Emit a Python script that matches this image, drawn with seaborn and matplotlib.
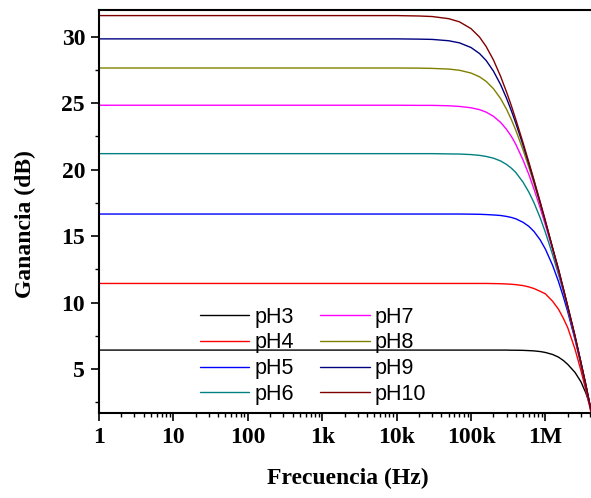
import numpy as np
import pandas as pd
import matplotlib
matplotlib.use("Agg")
import matplotlib.pyplot as plt
from matplotlib.ticker import FixedLocator, FixedFormatter, LogLocator, MultipleLocator, NullFormatter
import seaborn as sns

# Frequency points (Hz) shared by every series
freq = [1, 1e4, 2e4, 3e4, 5e4, 7e4, 1e5, 1.3e5, 1.6e5, 2e5, 2.5e5, 3e5, 3.5e5, 4e5,
        5e5, 6e5, 7e5, 8.5e5, 1e6, 1.25e6, 1.5e6, 1.75e6, 2e6, 2.5e6, 3e6, 3.5e6, 4e6, 4.1e6]

# Gain (dB) of each pH series at those frequencies
ph3 = [6.43, 6.43, 6.43, 6.43, 6.43, 6.43, 6.43, 6.43, 6.43, 6.43, 6.43, 6.43, 6.42, 6.42,
       6.41, 6.39, 6.37, 6.32, 6.25, 6.10, 5.90, 5.64, 5.35, 4.75, 4.05, 3.20, 2.25, 2.00]
ph4 = [11.44, 11.44, 11.44, 11.44, 11.44, 11.44, 11.44, 11.44, 11.44, 11.43, 11.42, 11.40, 11.38, 11.35,
       11.28, 11.18, 11.06, 10.85, 10.66, 10.10, 9.50, 8.80, 8.10, 6.50, 4.90, 3.40, 2.00, 1.70]
ph5 = [16.66, 16.66, 16.66, 16.66, 16.66, 16.66, 16.65, 16.64, 16.62, 16.59, 16.55, 16.48, 16.40, 16.30,
       16.04, 15.73, 15.36, 14.72, 14.02, 12.80, 11.58, 10.40, 9.29, 7.22, 5.37, 3.70, 2.15, 1.85]
ph6 = [21.20, 21.20, 21.20, 21.20, 21.18, 21.17, 21.13, 21.07, 20.99, 20.86, 20.65, 20.39, 20.10, 19.78,
       19.06, 18.30, 17.53, 16.38, 15.28, 13.60, 12.10, 10.80, 9.50, 7.40, 5.40, 3.70, 2.20, 1.90]
ph7 = [24.84, 24.84, 24.83, 24.83, 24.80, 24.75, 24.65, 24.51, 24.32, 24.01, 23.55, 23.03, 22.48, 21.90,
       20.73, 19.62, 18.56, 17.12, 15.83, 14.00, 12.30, 10.90, 9.60, 7.40, 5.50, 3.80, 2.20, 1.90]
ph8 = [27.64, 27.64, 27.63, 27.61, 27.56, 27.47, 27.26, 26.98, 26.63, 26.09, 25.34, 24.54, 23.74, 22.96,
       21.49, 20.17, 18.98, 17.40, 16.03, 14.10, 12.40, 11.00, 9.70, 7.40, 5.50, 3.80, 2.20, 1.90]
ph9 = [29.83, 29.83, 29.81, 29.79, 29.69, 29.53, 29.18, 28.73, 28.20, 27.41, 26.39, 25.37, 24.40, 23.49,
       21.85, 20.42, 19.16, 17.52, 16.11, 14.10, 12.50, 11.00, 9.70, 7.50, 5.50, 3.80, 2.20, 1.90]
ph10 = [31.58, 31.58, 31.55, 31.51, 31.35, 31.11, 30.60, 29.97, 29.25, 28.25, 27.01, 25.84, 24.77, 23.77,
        22.03, 20.54, 19.25, 17.58, 16.15, 14.10, 12.50, 11.00, 9.70, 7.50, 5.50, 3.80, 2.20, 1.90]

series_names = ["pH3", "pH4", "pH5", "pH6", "pH7", "pH8", "pH9", "pH10"]
series_values = [ph3, ph4, ph5, ph6, ph7, ph8, ph9, ph10]
series_colors = ["#000000", "#ff0000", "#0000ff", "#008080",
                 "#ff00ff", "#808000", "#000080", "#800000"]

xtick_values = [1, 10, 100, 1e3, 1e4, 1e5, 1e6]
xtick_labels = ["1", "10", "100", "1k", "10k", "100k", "1M"]
ytick_values = [5, 10, 15, 20, 25, 30]

df = pd.DataFrame({
    "Frecuencia": np.tile(freq, len(series_names)),
    "Ganancia": np.concatenate(series_values),
    "Serie": np.repeat(series_names, len(freq)),
})

sns.set_theme(style="ticks")
plt.rcParams["font.family"] = ["Liberation Serif", "DejaVu Serif"]
plt.rcParams["text.color"] = "black"
plt.rcParams["axes.labelcolor"] = "black"
plt.rcParams["xtick.color"] = "black"
plt.rcParams["ytick.color"] = "black"

fig = plt.figure(figsize=(5.91, 4.98), dpi=100)
ax = fig.add_axes([0.1675, 0.1707, 0.8325, 0.8092])

sns.lineplot(data=df, x="Frecuencia", y="Ganancia", hue="Serie",
             hue_order=series_names, palette=series_colors,
             estimator=None, sort=False, linewidth=1.0, ax=ax)

ax.set_xscale("log")
ax.set_xlim(1, 4.1e6)
ax.set_ylim(1.7, 32)

ax.xaxis.set_major_locator(FixedLocator(xtick_values))
ax.xaxis.set_major_formatter(FixedFormatter(xtick_labels))
ax.xaxis.set_minor_locator(LogLocator(base=10, subs=np.arange(2, 10), numticks=20))
ax.xaxis.set_minor_formatter(NullFormatter())
ax.yaxis.set_major_locator(FixedLocator(ytick_values))
ax.yaxis.set_minor_locator(MultipleLocator(2.5))

ax.tick_params(which="major", direction="out", length=6, width=1.2,
               labelsize=17, pad=4, color="black", labelcolor="black")
ax.tick_params(which="minor", direction="out", length=3, width=1.0, color="black")
for lab in ax.get_xticklabels() + ax.get_yticklabels():
    lab.set_fontweight("bold")

for side in ["left", "bottom", "top"]:
    ax.spines[side].set_linewidth(1.5)
    ax.spines[side].set_color("black")
ax.spines["right"].set_visible(False)

ax.set_xlabel("Frecuencia (Hz)", fontsize=17, fontweight="bold", color="black")
ax.set_ylabel("Ganancia (dB)", fontsize=17, fontweight="bold", color="black")
ax.xaxis.set_label_coords(0.5067, -0.135)
ax.yaxis.set_label_coords(-0.128, 0.469)

handles, labels = ax.get_legend_handles_labels()
leg = ax.legend(handles, labels, ncol=2, loc="upper left", bbox_to_anchor=(0.205, 0.264),
                frameon=False, prop={"family": ["Liberation Sans"], "size": 15.5},
                handlelength=2.3, handletextpad=0.25, columnspacing=1.2,
                labelspacing=0.22, borderpad=0, borderaxespad=0)
for t in leg.get_texts():
    t.set_color("black")

fig.savefig("out.png", dpi=100)
